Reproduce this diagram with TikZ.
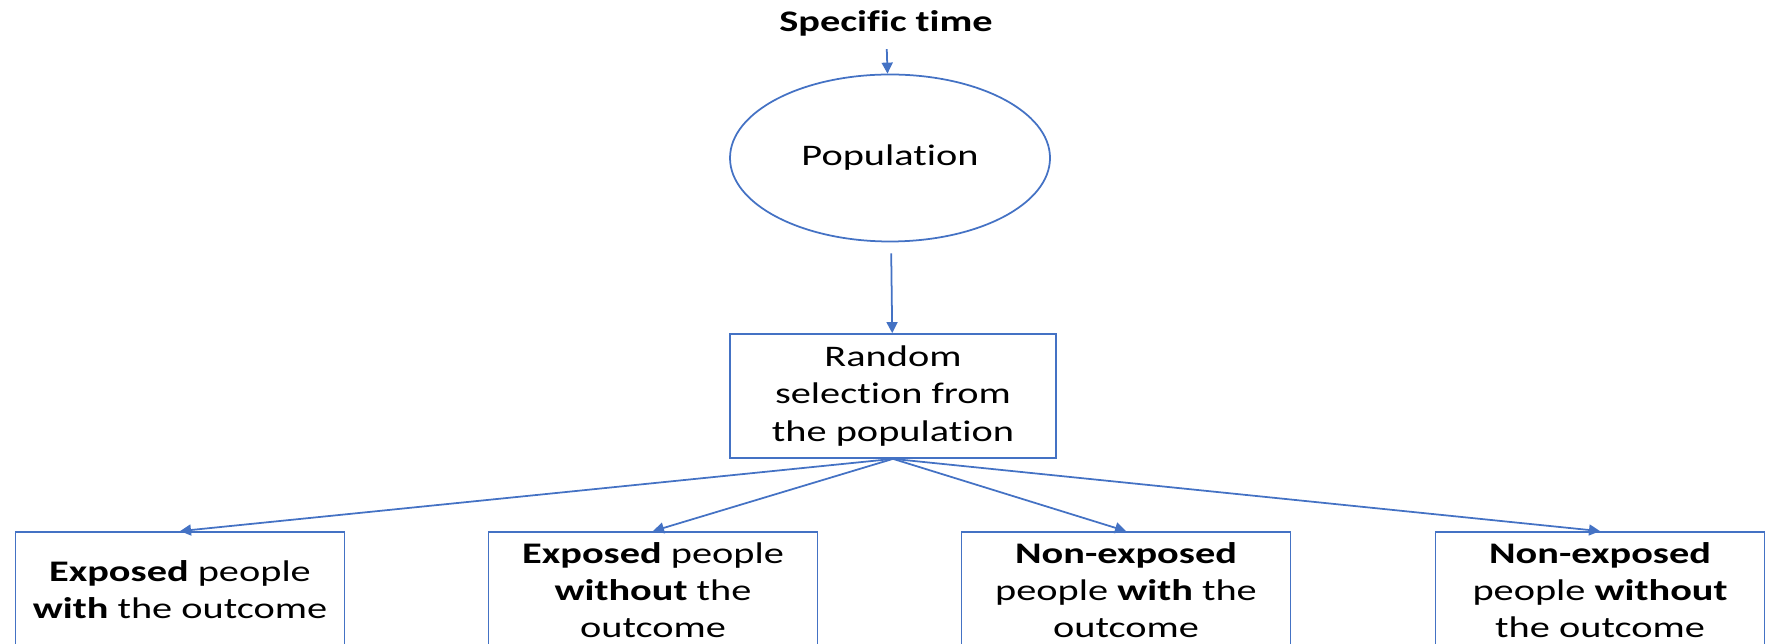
\documentclass[tikz,border=0pt]{standalone}
\usepackage{fontspec}
\setmainfont{Carlito}[FakeStretch=1.35, Ligatures=NoCommon]
\usepackage{tikz}
\usetikzlibrary{shapes.geometric,arrows.meta}
\definecolor{lineblue}{HTML}{4472C4}

\begin{document}
\begin{tikzpicture}[
    txt/.style={font=\fontsize{8.5}{10.6}\selectfont, align=center},
    box/.style={txt, rectangle, draw=lineblue, line width=0.5pt, inner sep=0pt},
    arr/.style={-{Triangle[length=1.1mm,width=1.1mm]}, draw=lineblue, line width=0.5pt}
  ]
%    \draw [help lines, opacity=0.5] (0,0) grid (18,7);
    \useasboundingbox (0,0) rectangle (17.7,6.44);

    %% top: time, population, sample
    \node (time) [txt, inner sep=1pt] at (8.86,6.21) {\textbf{Specific time}};
    \node (pop) [ellipse, draw=lineblue, line width=0.5pt, txt, inner sep=0pt,
                 minimum width=3.2cm, minimum height=1.67cm] at (8.90,4.86) {Population};
    \node (sel) [box, minimum width=3.26cm, minimum height=1.24cm] at (8.93,2.48)
        {Random\\ selection from\\ the population};

    %% the four groups, cut by the lower edge
    \node (g1) [box, minimum width=3.29cm, minimum height=1.16cm] at (1.80,0.54)
        {\textbf{Exposed} people\\ \textbf{with} the outcome};
    \node (g2) [box, minimum width=3.29cm, minimum height=1.16cm] at (6.53,0.54)
        {\textbf{Exposed} people\\ \textbf{without} the\\ outcome};
    \node (g3) [box, minimum width=3.29cm, minimum height=1.16cm] at (11.26,0.54)
        {\textbf{Non-exposed}\\ people \textbf{with} the\\ outcome};
    \node (g4) [box, minimum width=3.29cm, minimum height=1.16cm] at (16.00,0.54)
        {\textbf{Non-exposed}\\ people \textbf{without}\\ the outcome};

    \draw [arr, shorten <=0.09cm] (time) -- (pop);
    \draw [arr, shorten <=0.11cm] (pop) -- (sel);

    \draw [arr] (sel.south) -- (g1.north);
    \draw [arr] (sel.south) -- (g2.north);
    \draw [arr] (sel.south) -- (g3.north);
    \draw [arr] (sel.south) -- (g4.north);

  \end{tikzpicture}
\end{document}
